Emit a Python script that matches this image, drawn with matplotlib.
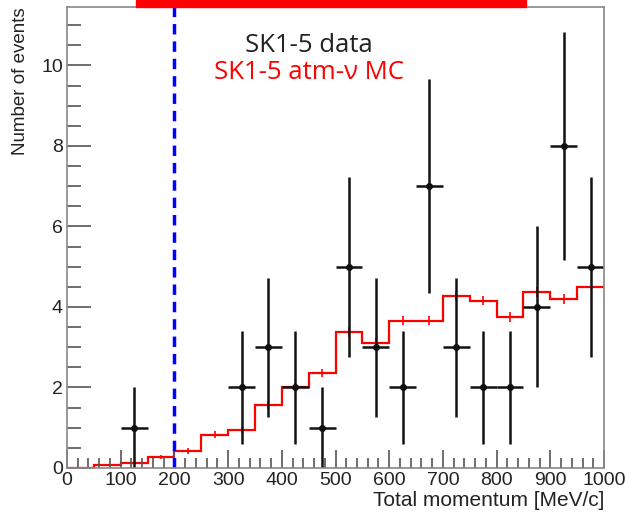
import numpy as np
import matplotlib.pyplot as plt
from matplotlib.patches import Rectangle
from matplotlib.ticker import MultipleLocator

# data points (bin centres, counts, errors)
data_x = [125, 325, 375, 425, 475, 525, 575, 625, 675, 725, 775, 825, 875, 925, 975]
data_n = [1, 2, 3, 2, 1, 5, 3, 2, 7, 3, 2, 2, 4, 8, 5]
data_err = [1.0, 1.41, 1.73, 1.41, 1.0, 2.24, 1.73, 1.41, 2.65, 1.73, 1.41, 1.41, 2.0, 2.83, 2.24]

# atmospheric MC histogram (50 MeV/c bins)
mc_edges = list(range(0, 1050, 50))
mc_vals = [0.0, 0.08, 0.12, 0.28, 0.43, 0.83, 0.95, 1.56, 2.01, 2.37,
           3.37, 3.10, 3.66, 3.66, 4.28, 4.16, 3.75, 4.37, 4.19, 4.49]
mc_err = [0.0, 0.02, 0.03, 0.05, 0.07, 0.08, 0.08, 0.1, 0.1, 0.1,
          0.12, 0.12, 0.12, 0.12, 0.12, 0.12, 0.12, 0.12, 0.12, 0.0]

fig = plt.figure(figsize=(6.26, 5.14), dpi=100)
ax = fig.add_axes([67/626, 1 - 468/514, (604-67)/626, (468-7)/514])

# MC step histogram
ax.stairs(mc_vals, mc_edges, color='red', lw=1.6, baseline=None)
mc_centres = [e + 25 for e in mc_edges[:-1]]
ax.errorbar(mc_centres, mc_vals, yerr=mc_err, fmt='none', ecolor='red', elinewidth=1.2)

# data with stat errors
ax.errorbar(data_x, data_n, xerr=25, yerr=data_err, fmt='o', color='#111111',
            ms=4, elinewidth=1.8, capsize=0)

# analysis threshold
ax.axvline(200, color='blue', ls=(0, (3, 2)), lw=2.5)

ax.set_xlim(0, 1000)
ax.set_ylim(0, 11.45)
ax.xaxis.set_major_locator(MultipleLocator(100))
ax.xaxis.set_minor_locator(MultipleLocator(20))
ax.yaxis.set_major_locator(MultipleLocator(2))
ax.yaxis.set_minor_locator(MultipleLocator(0.5))
ax.tick_params(which='both', direction='in', top=False, right=False,
               colors='#555555', labelcolor='#222222', labelsize=14,
               width=1.2, labelfontfamily='Liberation Sans')
ax.tick_params(axis='x', which='major', length=13, pad=3)
ax.tick_params(axis='x', which='minor', length=7)
ax.tick_params(axis='y', which='major', length=17, pad=3)
ax.tick_params(axis='y', which='minor', length=10)
for s in ax.spines.values():
    s.set_color('#888888')
    s.set_linewidth(1.2)

ax.set_xlabel('Total momentum [MeV/c]', fontsize=15, family='Liberation Sans',
              color='#222222', loc='right', labelpad=1)
ax.set_ylabel('Number of events', fontsize=13.5, family='Liberation Sans',
              color='#222222', loc='top', labelpad=9)

fig.text(309/626, 1 - 46/514, 'SK1-5 data', color='#222222', fontsize=18.5,
         family='Open Sans', ha='center', va='center')
fig.text(309/626, 1 - 73/514, 'SK1-5 atm-ν MC', color='red', fontsize=18.5,
         family='Open Sans', ha='center', va='center')

# red banner at the top edge
fig.patches.append(Rectangle((136/626, 1 - 7/514), (526-136)/626, 7/514,
                             transform=fig.transFigure, color='red'))

fig.savefig('out.png', dpi=100)
